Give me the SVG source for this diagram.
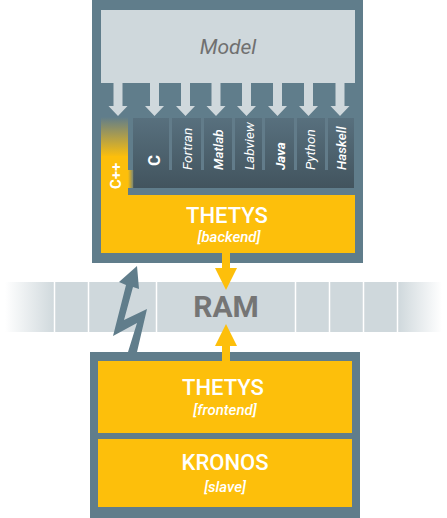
<svg xmlns="http://www.w3.org/2000/svg" width="447" height="518" viewBox="0 0 447 518">
<style>
.frame{fill:#607d8b}
.light{fill:#cfd8dc}
.yel{fill:#fdbf0b}
.t{font-family:Roboto,"Liberation Sans",sans-serif;fill:#fff}
.col{font-family:Roboto,"Liberation Sans",sans-serif;fill:#fff;font-size:13.5px;font-style:italic}
</style>
<defs>
<linearGradient id="dark" x1="0" y1="0" x2="0" y2="1">
<stop offset="0" stop-color="#58707e"/>
<stop offset="1" stop-color="#42545e"/>
</linearGradient>
<linearGradient id="cpp" x1="0" y1="0" x2="0" y2="1">
<stop offset="0" stop-color="#fdbf0b" stop-opacity="0"/>
<stop offset="1" stop-color="#fdbf0b" stop-opacity="1"/>
</linearGradient>
<linearGradient id="cppside" x1="0" y1="0" x2="1" y2="0">
<stop offset="0" stop-color="#fdbf0b"/>
<stop offset="1" stop-color="#fdbf0b" stop-opacity="0"/>
</linearGradient>
<linearGradient id="ramL" x1="0" y1="0" x2="1" y2="0">
<stop offset="0" stop-color="#cfd8dc" stop-opacity="0"/>
<stop offset="1" stop-color="#cfd8dc"/>
</linearGradient>
<linearGradient id="ramR" x1="0" y1="0" x2="1" y2="0">
<stop offset="0" stop-color="#cfd8dc"/>
<stop offset="1" stop-color="#cfd8dc" stop-opacity="0"/>
</linearGradient>
<path id="darr" d="M-4.5,0 H4.5 V24 H9.5 L0,34 L-9.5,24 H-4.5 Z" class="light"/>
</defs>

<g id="ram">
<rect x="5" y="282" width="50" height="50" fill="url(#ramL)"/>
<rect x="55" y="282" width="343" height="50" class="light"/>
<rect x="398" y="282" width="44" height="50" fill="url(#ramR)"/>
<g stroke="#fff" stroke-width="1.5">
<line x1="54.5" y1="282" x2="54.5" y2="332"/>
<line x1="88.5" y1="282" x2="88.5" y2="332"/>
<line x1="156.5" y1="282" x2="156.5" y2="332"/>
<line x1="295.5" y1="282" x2="295.5" y2="332"/>
<line x1="329.5" y1="282" x2="329.5" y2="332"/>
<line x1="363.5" y1="282" x2="363.5" y2="332"/>
<line x1="397.5" y1="282" x2="397.5" y2="332"/>
</g>
<text x="226" y="317" text-anchor="middle" font-family="Roboto,'Liberation Sans',sans-serif" font-weight="bold" font-size="30" fill="#757575">RAM</text>
</g>

<g id="backend-host">
<rect x="92" y="0" width="271" height="263" class="frame"/>
<g id="model">
<rect x="101" y="10" width="254" height="73" class="light"/>
<text x="228" y="54" text-anchor="middle" font-family="Roboto,'Liberation Sans',sans-serif" font-style="italic" font-size="21" fill="#707070">Model</text>
</g>
<use href="#darr" x="118" y="82"/>
<use href="#darr" x="154.5" y="82"/>
<use href="#darr" x="185.5" y="82"/>
<use href="#darr" x="216" y="82"/>
<use href="#darr" x="246.5" y="82"/>
<use href="#darr" x="277.5" y="82"/>
<use href="#darr" x="308.5" y="82"/>
<use href="#darr" x="340" y="82"/>
<g id="languages">
<rect x="133" y="118" width="221" height="70" fill="url(#dark)"/>
<g fill="#627c8a">
<rect x="169" y="118" width="3" height="52"/>
<rect x="201" y="118" width="3" height="52"/>
<rect x="232" y="118" width="3" height="52"/>
<rect x="262" y="118" width="3" height="52"/>
<rect x="294" y="118" width="3" height="52"/>
<rect x="325" y="118" width="3" height="52"/>
</g>
<rect x="101" y="117" width="27" height="40" fill="url(#cpp)"/>
<rect x="101" y="156" width="27" height="40" class="yel"/>
<rect x="128" y="170" width="6" height="18" fill="url(#cppside)"/>
<text class="t" font-weight="bold" font-size="15" transform="translate(121,189) rotate(-90)">C++</text>
<text class="t" font-weight="bold" font-size="17" transform="translate(160,166) rotate(-90)">C</text>
<text class="col" transform="translate(192,170) rotate(-90)">Fortran</text>
<text class="col" font-weight="500" transform="translate(223,170) rotate(-90)">Matlab</text>
<text class="col" transform="translate(254,170) rotate(-90)">Labview</text>
<text class="col" font-weight="bold" transform="translate(285,170) rotate(-90)">Java</text>
<text class="col" transform="translate(315,170) rotate(-90)">Python</text>
<text class="col" font-weight="500" transform="translate(346,170) rotate(-90)">Haskell</text>
</g>
<g id="thetys-backend">
<rect x="101" y="195" width="254" height="58" class="yel"/>
<text class="t" x="227" y="223" text-anchor="middle" font-weight="500" font-size="22">THETYS</text>
<text class="t" x="229" y="242" text-anchor="middle" font-style="italic" font-weight="500" font-size="15">[backend]</text>
</g>
</g>

<g id="frontend-host">
<rect x="90" y="352" width="270" height="166" class="frame"/>
<g id="thetys-frontend">
<rect x="98" y="361" width="254" height="72" class="yel"/>
<text class="t" x="223" y="395" text-anchor="middle" font-weight="500" font-size="22">THETYS</text>
<text class="t" x="225" y="415" text-anchor="middle" font-style="italic" font-weight="500" font-size="15">[frontend]</text>
</g>
<g id="kronos">
<rect x="98" y="439" width="254" height="68" class="yel"/>
<text class="t" x="225" y="470" text-anchor="middle" font-weight="500" font-size="22">KRONOS</text>
<text class="t" x="225" y="492" text-anchor="middle" font-style="italic" font-weight="500" font-size="15">[slave]</text>
</g>
</g>

<g id="connectors">
<path d="M222,253 H230 V268 H237 L226,290 L215,268 H222 Z" class="yel"/>
<path d="M222,361 H230 V346 H237 L226,324 L215,346 H222 Z" class="yel"/>
<polygon points="137,266 139,289 133,287 124,320 147,309 137,352 128,352 137,323 113,336 126,285 119,282" class="frame"/>
</g>
</svg>
